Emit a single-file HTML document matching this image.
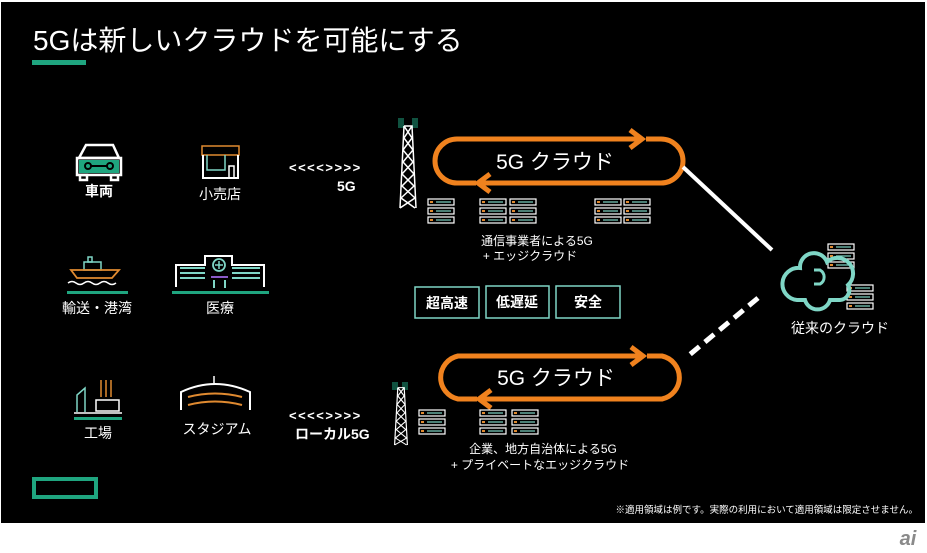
<!DOCTYPE html>
<html><head><meta charset="utf-8"><style>
html,body{margin:0;padding:0;background:#fff;width:927px;height:553px;overflow:hidden}
svg{display:block}
text{font-family:"Liberation Sans","Noto Sans CJK JP",sans-serif;fill:#fff}
</style></head><body>
<svg width="927" height="553" viewBox="0 0 927 553" xmlns="http://www.w3.org/2000/svg">
<defs>
<g id="srv"><rect x="0" y="0" width="26" height="6" fill="none" stroke="#fff" stroke-width="1.2"/><rect x="2" y="2" width="3" height="2" fill="#e08a30"/><line x1="8" y1="3" x2="23" y2="3" stroke="#7fd6c6" stroke-width="1.2"/></g>
<g id="rack"><use href="#srv" y="0"/><use href="#srv" y="9"/><use href="#srv" y="18"/></g>
<g id="tower" fill="none" stroke="#fff" stroke-width="1.5">
<path d="M6 8 L14 8 L18 90 M6 8 L2 90 M6 8 L14 20 L5 32 L15 44 L4 56 L16 68 L3 80 L17 90 M14 8 L6 20 L15 32 L5 44 L16 56 L4 68 L17 80 L2 90"/>
</g>
</defs>
<rect x="1" y="2" width="924" height="521" fill="#000"/>
<text x="33" y="50" font-size="28">5Gは新しいクラウドを可能にする</text>
<rect x="32" y="60" width="54" height="5" fill="#1fa57f"/>

<!-- car -->
<g fill="none" stroke="#fff" stroke-width="2.5">
<path d="M79 158 L86 145 L113 145 L119 158 Z"/><rect x="77" y="158" width="44" height="17"/>
<rect x="80" y="175" width="7" height="5"/><rect x="111" y="175" width="7" height="5"/>
</g>
<rect x="79" y="160" width="40" height="13" fill="#1fa57f"/>
<circle cx="88" cy="166" r="3" fill="none" stroke="#000" stroke-width="2"/><circle cx="110" cy="166" r="3" fill="none" stroke="#000" stroke-width="2"/>
<line x1="91" y1="166" x2="107" y2="166" stroke="#000" stroke-width="2"/>
<text x="99" y="196" font-size="14" text-anchor="middle" font-weight="bold">車両</text>
<!-- shop -->
<rect x="202" y="146" width="37" height="9" fill="none" stroke="#e08a30" stroke-width="1.5"/>
<path d="M203 155 V178 H238 V155" fill="none" stroke="#fff" stroke-width="2"/>
<path d="M207 155 V170 H225 V155" fill="none" stroke="#7fd6c6" stroke-width="1.5"/>
<rect x="229" y="166" width="5" height="12" fill="none" stroke="#fff" stroke-width="1.5"/>
<text x="220" y="199" font-size="14" text-anchor="middle">小売店</text>
<text x="289" y="172" font-size="13" font-weight="bold" letter-spacing="1.5">&lt;&lt;&lt;&lt;&gt;&gt;&gt;&gt;</text>
<text x="337" y="191" font-size="14" font-weight="bold">5G</text>
<!-- ship -->
<rect x="88" y="257" width="4" height="5" fill="none" stroke="#7fd6c6" stroke-width="1.5"/>
<rect x="84" y="262" width="17" height="8" fill="none" stroke="#7fd6c6" stroke-width="1.5"/>
<path d="M71 270 H119 L112 278 H77 Z" fill="none" stroke="#e08a30" stroke-width="1.8"/>
<path d="M68 283 q4 -3 8 0 t8 0 t8 0 t8 0 t8 0 t8 0" fill="none" stroke="#fff" stroke-width="1.5"/>
<rect x="67" y="291" width="61" height="3" fill="#1fa57f"/>
<text x="97" y="313" font-size="14" text-anchor="middle">輸送・港湾</text>
<!-- hospital -->
<path d="M176 287 V265 H205 V256 H232 V265 H264 V287" fill="none" stroke="#fff" stroke-width="2"/>
<g stroke="#7fd6c6" stroke-width="2"><line x1="180" y1="268" x2="205" y2="268"/><line x1="180" y1="273" x2="205" y2="273"/><line x1="180" y1="278" x2="205" y2="278"/><line x1="232" y1="268" x2="260" y2="268"/><line x1="232" y1="273" x2="260" y2="273"/><line x1="232" y1="278" x2="260" y2="278"/><line x1="214" y1="280" x2="214" y2="288"/><line x1="225" y1="280" x2="225" y2="288"/></g>
<circle cx="219" cy="265" r="6" fill="none" stroke="#7fd6c6" stroke-width="1.8"/>
<path d="M219 261 V269 M215 265 H223" stroke="#7fd6c6" stroke-width="1.5"/>
<line x1="211" y1="277" x2="228" y2="277" stroke="#8a5ac8" stroke-width="2"/>
<rect x="172" y="291" width="97" height="3" fill="#1fa57f"/>
<text x="220" y="313" font-size="14" text-anchor="middle">医療</text>
<!-- factory -->
<path d="M77 412 V395 L85 388 V412" fill="none" stroke="#7fd6c6" stroke-width="1.5"/>
<path d="M96 400 H119 V411 H96 Z" fill="none" stroke="#fff" stroke-width="1.5"/>
<g stroke="#e08a30" stroke-width="1.5"><line x1="101" y1="380" x2="101" y2="397"/><line x1="106" y1="380" x2="106" y2="397"/><line x1="111" y1="380" x2="111" y2="397"/></g>
<line x1="74" y1="413" x2="122" y2="413" stroke="#fff" stroke-width="1.5"/>
<rect x="74" y="417" width="48" height="3" fill="#1fa57f"/>
<text x="98" y="438" font-size="14" text-anchor="middle">工場</text>
<!-- stadium -->
<path d="M181 410 V392 Q215 376 250 392 V410" fill="none" stroke="#fff" stroke-width="2"/>
<line x1="214" y1="376" x2="214" y2="384" stroke="#fff" stroke-width="1.5"/>
<path d="M188 397 Q215 390 242 397 M188 405 Q215 398 242 405" fill="none" stroke="#e08a30" stroke-width="2"/>
<text x="217" y="434" font-size="14" text-anchor="middle">スタジアム</text>
<text x="289" y="420" font-size="13" font-weight="bold" letter-spacing="1.5">&lt;&lt;&lt;&lt;&gt;&gt;&gt;&gt;</text>
<text x="295" y="439" font-size="14" font-weight="bold">ローカル5G</text>

<!-- towers -->
<g stroke="#1fa57f" stroke-width="1"><path d="M399 118v10M401 118v10M403 118v10M413 118v10M415 118v10M417 118v10"/></g>
<use href="#tower" x="398" y="118"/>
<g stroke="#1fa57f" stroke-width="1"><path d="M393 382v8M395 382v8M397 382v8M403 382v8M405 382v8M407 382v8"/></g>
<g transform="translate(393,382) scale(0.8,0.7)"><use href="#tower" x="0" y="0"/></g>

<!-- loops -->
<g fill="none" stroke="#f0821e" stroke-width="5">
<path d="M476 183 H457 A22 22 0 0 1 457 139 H641"/>
<path d="M646 139 H661 A22 22 0 0 1 661 183 H482"/>
<path d="M630 130 L642 139 L630 148"/><path d="M490 174 L478 183 L490 192"/>
<path d="M477 399 H458 A22 22 0 0 1 458 356 H642"/>
<path d="M647 356 H662 A22 22 0 0 1 662 399 H483"/>
<path d="M631 347 L643 356 L631 365"/><path d="M491 390 L479 399 L491 408"/>
</g>
<text x="555" y="169" font-size="21" text-anchor="middle">5G クラウド</text>
<text x="556" y="385" font-size="21" text-anchor="middle">5G クラウド</text>

<use href="#rack" x="428" y="199"/><use href="#rack" x="480" y="199"/><use href="#rack" x="510" y="199"/><use href="#rack" x="595" y="199"/><use href="#rack" x="624" y="199"/>
<use href="#rack" x="419" y="410"/><use href="#rack" x="480" y="410"/><use href="#rack" x="512" y="410"/>
<use href="#rack" x="828" y="244"/><use href="#rack" x="847" y="285"/>

<text x="537" y="245" font-size="12" text-anchor="middle">通信事業者による5G</text>
<text x="530" y="260" font-size="12" text-anchor="middle">+  エッジクラウド</text>
<text x="543" y="453" font-size="12" text-anchor="middle">企業、地方自治体による5G</text>
<text x="540" y="469" font-size="12" text-anchor="middle">+  プライベートなエッジクラウド</text>

<g fill="none" stroke="#7fd6c6" stroke-width="1.5"><rect x="415" y="287" width="64" height="31"/><rect x="486" y="286" width="63" height="32"/><rect x="556" y="286" width="64" height="32"/></g>
<text x="447" y="308" font-size="14" font-weight="bold" text-anchor="middle">超高速</text>
<text x="517" y="307" font-size="14" font-weight="bold" text-anchor="middle">低遅延</text>
<text x="588" y="307" font-size="14" font-weight="bold" text-anchor="middle">安全</text>

<line x1="683" y1="167" x2="772" y2="250" stroke="#fff" stroke-width="4"/>
<line x1="758" y1="298" x2="688" y2="356" stroke="#fff" stroke-width="5" stroke-dasharray="12,7"/>
<!-- cloud -->
<path d="M800 268 A14 14 0 0 1 827 262 A14 14 0 0 1 848 285 A10 10 0 0 1 840 300 H830 A13 13 0 0 1 805 300 H797 A15 15 0 0 1 800 268 Z" fill="none" stroke="#7fd6c6" stroke-width="4"/>
<path d="M814 270 H820 A8 8 0 0 1 820 284 H814" fill="none" stroke="#7fd6c6" stroke-width="3"/>
<text x="840" y="333" font-size="14" text-anchor="middle">従来のクラウド</text>

<rect x="34" y="479" width="62" height="18" fill="none" stroke="#1fa57f" stroke-width="4"/>
<text x="918" y="513" font-size="9.5" text-anchor="end">※適用領域は例です。実際の利用において適用領域は限定させません。</text>
<text x="908" y="545" font-size="20" font-style="italic" font-weight="bold" style="fill:#8a8a8a" text-anchor="middle">ai</text>
</svg>
</body></html>
